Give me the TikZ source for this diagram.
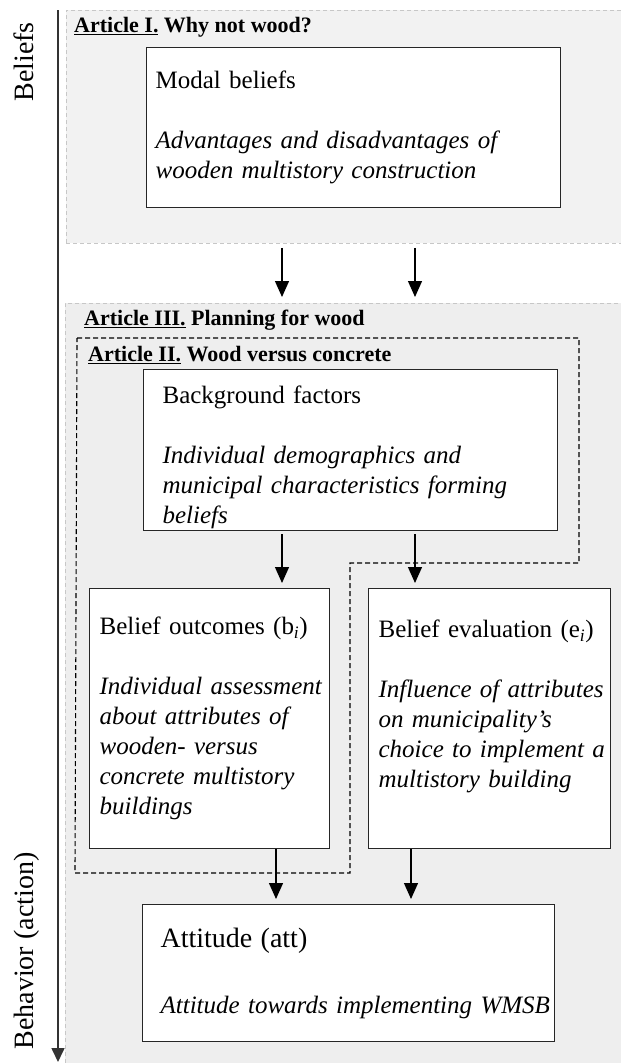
\documentclass[tikz,border=0pt]{standalone}
\usepackage{fontspec}
\setmainfont{Liberation Serif}
\usetikzlibrary{arrows.meta,positioning,calc}
\newcommand{\il}[1]{\mbox{\itshape #1}}

\begin{document}
\begin{tikzpicture}[x=1pt,y=-1pt,
panel/.style={draw=black!22,dash pattern=on 4pt off 3pt,line width=.8pt,anchor=north west,inner sep=0pt,minimum width=560pt},
box/.style={draw=black!85,line width=1.2pt,fill=white,anchor=north west,align=left,inner ysep=0pt,font=\fontsize{25}{30}\selectfont},
head/.style={anchor=base west,inner sep=0pt,font=\fontsize{22}{26}\selectfont\bfseries},
axlabel/.style={rotate=90,inner sep=0pt,font=\fontsize{28}{32}\selectfont},
arr/.style={-{Triangle[length=16pt,width=14pt]},line width=1.3pt},
grp/.style={dash pattern=on 5pt off 3pt,line width=1.1pt}]
\useasboundingbox (0,0) rectangle (621,1063);
\node[panel,fill=black!5,minimum height=233pt](artI) at (66,10){};
\node[panel,fill=black!6.5,minimum height=770pt](artIII) at (65,303){};
\draw[grp](77,338)--(579,338)--(579,563)--(350,563)--(350,873)--(75,873)--cycle;
\node[head](hI) at (74,32){\underline{Article I.} Why not wood?};
\node[head](hIII) at (84,325){\underline{Article III.} Planning for wood};
\node[head](hII) at (88,361){\underline{Article II.} Wood versus concrete};
\node[axlabel](lbelief) at (24,62){Beliefs};
\node[axlabel](lbehav) at (27,951){Behavior (action)};
\node[box,inner xsep=9pt,text width=396pt,minimum width=414pt,minimum height=160pt](modal) at (146,47)
{Modal beliefs\\[30pt]\il{Advantages and disadvantages of}\\\il{wooden multistory construction}};
\node[box,inner xsep=19pt,text width=376pt,minimum width=414pt,minimum height=161pt](bg) at (143,369)
{\rule{0pt}{32pt}Background factors\\[30pt]\il{Individual demographics and}\\\il{municipal characteristics forming}\\\il{beliefs}};
\node[box,inner xsep=10pt,text width=220pt,minimum width=240pt,minimum height=260pt](outc) at (89,588)
{\mbox{Belief outcomes (b\textsubscript{\textit{i}})}\\[30pt]\il{Individual assessment}\\\il{about attributes of}\\\il{wooden- versus}\\\il{concrete multistory}\\\il{buildings}};
\node[box,inner xsep=10pt,text width=222pt,minimum width=242pt,minimum height=260pt](evalb) at (368,588)
{\mbox{Belief evaluation (e\textsubscript{\textit{i}})}\\[30pt]\il{Influence of attributes}\\\il{on municipality’s}\\\il{choice to implement a}\\\il{multistory building}\\\mbox{}};
\node[box,inner xsep=18pt,text width=376pt,minimum width=412pt,minimum height=137pt](att) at (142,904)
{{\fontsize{28}{32}\selectfont Attitude (att)}\\[36pt]\il{Attitude towards implementing WMSB}};
\coordinate(axtop) at (58,10);\coordinate(axbot) at (58,1062);
\draw[line width=1.6pt,black!80,-{Triangle[length=14pt,width=13pt]}](axtop)--(axbot);
\coordinate(lcol) at (282,0);\coordinate(rcol) at (415,0);
\coordinate(lcol2) at (276,0);\coordinate(rcol2) at (411,0);
\draw[arr,shorten <=4pt,shorten >=6pt](artI.south -| lcol)--(artIII.north -| lcol);
\draw[arr,shorten <=4pt,shorten >=6pt](artI.south -| rcol)--(artIII.north -| rcol);
\draw[arr,shorten <=3pt,shorten >=5pt](bg.south -| lcol)--(outc.north -| lcol);
\draw[arr,shorten <=3pt,shorten >=5pt](bg.south -| rcol)--(evalb.north -| rcol);
\draw[arr,shorten >=5pt](outc.south -| lcol2)--(att.north -| lcol2);
\draw[arr,shorten >=5pt](evalb.south -| rcol2)--(att.north -| rcol2);
\end{tikzpicture}
\end{document}
